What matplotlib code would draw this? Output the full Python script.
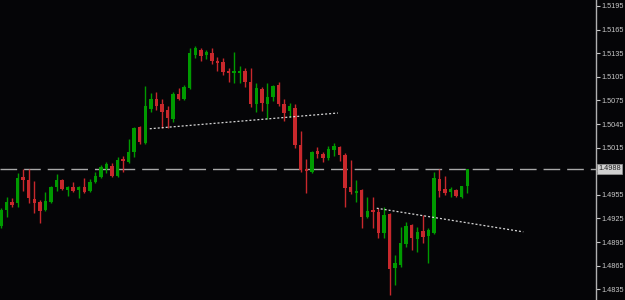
import numpy as np
import matplotlib
matplotlib.use('Agg')
import matplotlib.pyplot as plt

# OHLC per bar
opens = [1.4915, 1.4936, 1.4946, 1.4945, 1.4978, 1.4974, 1.4950, 1.4946, 1.4936, 1.4946,
         1.4965, 1.4974, 1.4961, 1.4965, 1.4961, 1.4965, 1.4960, 1.4971, 1.4978, 1.4988,
         1.4992, 1.4979, 1.5001, 1.4997, 1.5009, 1.5041, 1.5021, 1.5064, 1.5077, 1.5070,
         1.5063, 1.5051, 1.5083, 1.5077, 1.5091, 1.5133, 1.5139, 1.5133, 1.5135, 1.5125,
         1.5124, 1.5112, 1.5110, 1.5110, 1.5112, 1.5098, 1.5070, 1.5090, 1.5070, 1.5079,
         1.5095, 1.5070, 1.5062, 1.5065, 1.5018, 1.4988, 1.4984, 1.5011, 1.5007, 1.5002,
         1.5012, 1.5016, 1.5006, 1.4965, 1.4957, 1.4961, 1.4927, 1.4936, 1.4933, 1.4907,
         1.4931, 1.4862, 1.4866, 1.4893, 1.4917, 1.4899, 1.4909, 1.4903, 1.4907, 1.4975,
         1.4962, 1.4959, 1.4961, 1.4952, 1.4966]
highs = [1.4938, 1.4952, 1.4951, 1.4983, 1.4988, 1.4988, 1.4973, 1.4949, 1.4959, 1.4966,
         1.4982, 1.4975, 1.4966, 1.4971, 1.4966, 1.4976, 1.4975, 1.4984, 1.4993, 1.4997,
         1.4995, 1.5003, 1.5004, 1.5026, 1.5041, 1.5043, 1.5093, 1.5084, 1.5086, 1.5077,
         1.5068, 1.5086, 1.5091, 1.5095, 1.5142, 1.5144, 1.5142, 1.5139, 1.5142, 1.5130,
         1.5129, 1.5116, 1.5137, 1.5119, 1.5116, 1.5116, 1.5097, 1.5092, 1.5097, 1.5095,
         1.5098, 1.5077, 1.5072, 1.5070, 1.5036, 1.5001, 1.5011, 1.5016, 1.5009, 1.5017,
         1.5021, 1.5017, 1.5008, 1.4999, 1.4974, 1.4962, 1.4952, 1.4952, 1.4938, 1.4940,
         1.4932, 1.4879, 1.4914, 1.4921, 1.4918, 1.4914, 1.4929, 1.4913, 1.4984, 1.4988,
         1.4979, 1.4965, 1.4962, 1.4966, 1.4988]
lows = [1.4913, 1.4927, 1.4940, 1.4940, 1.4960, 1.4945, 1.4932, 1.4919, 1.4935, 1.4945,
        1.4960, 1.4961, 1.4954, 1.4959, 1.4951, 1.4957, 1.4959, 1.4970, 1.4976, 1.4983,
        1.4978, 1.4978, 1.4984, 1.4995, 1.5003, 1.5020, 1.5020, 1.5060, 1.5063, 1.5040,
        1.5040, 1.5048, 1.5076, 1.5076, 1.5090, 1.5129, 1.5125, 1.5128, 1.5121, 1.5112,
        1.5107, 1.5098, 1.5097, 1.5097, 1.5092, 1.5067, 1.5060, 1.5062, 1.5051, 1.5074,
        1.5068, 1.5049, 1.5054, 1.5015, 1.4984, 1.4957, 1.4983, 1.5002, 1.4997, 1.4999,
        1.5004, 1.4998, 1.4940, 1.4956, 1.4946, 1.4913, 1.4926, 1.4913, 1.4900, 1.4900,
        1.4828, 1.4840, 1.4863, 1.4889, 1.4885, 1.4882, 1.4894, 1.4868, 1.4905, 1.4952,
        1.4955, 1.4952, 1.4952, 1.4951, 1.4957]
closes = [1.4936, 1.4946, 1.4942, 1.4976, 1.4974, 1.4951, 1.4945, 1.4935, 1.4947, 1.4965,
          1.4974, 1.4962, 1.4965, 1.4960, 1.4965, 1.4959, 1.4971, 1.4979, 1.4990, 1.4994,
          1.4979, 1.4999, 1.4998, 1.5009, 1.5040, 1.5022, 1.5068, 1.5077, 1.5068, 1.5060,
          1.5053, 1.5083, 1.5077, 1.5092, 1.5135, 1.5142, 1.5131, 1.5137, 1.5125, 1.5123,
          1.5111, 1.5110, 1.5112, 1.5112, 1.5098, 1.5070, 1.5091, 1.5072, 1.5079, 1.5093,
          1.5070, 1.5059, 1.5068, 1.5018, 1.4987, 1.4985, 1.5009, 1.5007, 1.5002, 1.5013,
          1.5017, 1.5006, 1.4964, 1.4959, 1.4960, 1.4927, 1.4935, 1.4933, 1.4907, 1.4929,
          1.4861, 1.4868, 1.4894, 1.4915, 1.4900, 1.4908, 1.4901, 1.4910, 1.4976, 1.4960,
          1.4957, 1.4962, 1.4954, 1.4966, 1.4988]

# trendlines as (bar index, price) pairs, and the current price line
trend_upper = [(26.8, 1.5039), (60.7, 1.5059)]
trend_lower = [(67.7, 1.4938), (94.1, 1.4908)]
last_price = 1.4988
price_ticks = [1.4835, 1.4865, 1.4895, 1.4925, 1.4955, 1.4985, 1.5015,
               1.5045, 1.5075, 1.5105, 1.5135, 1.5165, 1.5195]

BG = '#050507'
UP = '#009a00'
DOWN = '#c8282c'
FONT = 'Liberation Sans'

fig = plt.figure(figsize=(6.25, 3.0), dpi=100, facecolor=BG)
ax = fig.add_axes([0, 0, 596 / 625, 1.0], facecolor=BG)

o = np.array(opens)
h = np.array(highs)
l = np.array(lows)
c = np.array(closes)
x = np.arange(len(o))
colors = [UP if cc > oo else DOWN for oo, cc in zip(o, c)]

# wicks then bodies
ax.vlines(x, l, h, colors=colors, linewidth=1.0, zorder=2)
body_bottom = np.minimum(o, c)
body_height = np.maximum(np.abs(c - o), 0.00012)
ax.bar(x, body_height, bottom=body_bottom, width=0.62, color=colors,
       linewidth=0, zorder=3)

# horizontal price line
ax.axhline(last_price, color='#a8a8a8', linewidth=1.0, dashes=(12, 5), zorder=1)

# dotted trendlines
for line in (trend_upper, trend_lower):
    xs, ys = zip(*line)
    ax.plot(xs, ys, color='#d8d8d8', linewidth=0.9, linestyle=(0, (1.6, 1.6)), zorder=4)

ax.set_xlim(-0.18, 107.2)
ax.set_ylim(1.48214, 1.52026)

# right price scale; the label under the price tag is hidden, as on the chart
ax.yaxis.tick_right()
ax.set_yticks(price_ticks)
ax.set_yticklabels(['' if abs(p - last_price) < 0.001 else f'{p:.4f}' for p in price_ticks],
                   family=FONT)
ax.tick_params(axis='y', colors='#c8c8c8', labelsize=5.3, length=3, width=0.8, pad=1.2)
ax.set_xticks([])
for side in ('top', 'left', 'bottom'):
    ax.spines[side].set_visible(False)
ax.spines['right'].set_color('#b0b0b0')
ax.spines['right'].set_linewidth(1.0)

# current price tag on the axis
ax.annotate(f'{last_price:.4f}', xy=(1.0, last_price), xycoords=('axes fraction', 'data'),
            xytext=(1.5, 0), textcoords='offset points', va='center', ha='left',
            fontsize=5.3, family=FONT, color='#202020',
            bbox=dict(boxstyle='square,pad=0.2', facecolor='#d0d0d0', edgecolor='#909090',
                      linewidth=0.6),
            annotation_clip=False, zorder=6)

fig.savefig('out.png', dpi=100, facecolor=BG)
